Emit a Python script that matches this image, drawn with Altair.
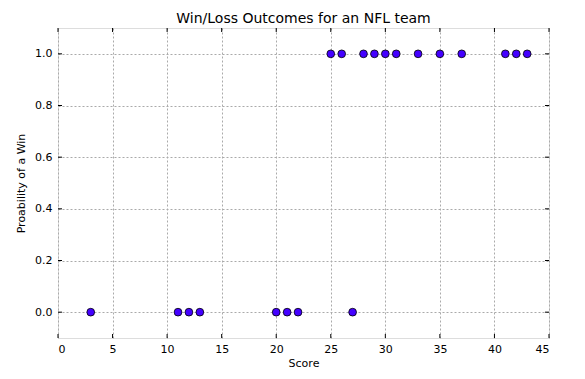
import altair as alt
import pandas as pd

scores = [3, 11, 12, 13, 20, 21, 22, 27, 25, 26, 28, 29, 30, 31, 33, 35, 37, 41, 42, 43]
wins = [0, 0, 0, 0, 0, 0, 0, 0, 1, 1, 1, 1, 1, 1, 1, 1, 1, 1, 1, 1]
x_ticks = [0, 5, 10, 15, 20, 25, 30, 35, 40, 45]
y_ticks = [0.0, 0.2, 0.4, 0.6, 0.8, 1.0]

W, H = 491, 310
FONT = "DejaVu Sans"

df = pd.DataFrame({"Score": scores, "Win": wins})
xt = pd.DataFrame({"t": x_ticks})
yt = pd.DataFrame({"t": y_ticks})

xscale = alt.Scale(domain=[0, 45], nice=False, zero=False)
yscale = alt.Scale(domain=[-0.1, 1.1], nice=False, zero=False)

points = alt.Chart(df).mark_point(
    filled=True, size=60, color="#4400ff", stroke="black", strokeWidth=0.8, opacity=1
).encode(
    x=alt.X("Score:Q", scale=xscale, title="Score",
            axis=alt.Axis(values=x_ticks, format="d", grid=True, gridDash=[2, 2],
                          gridColor="#aaaaaa", gridOpacity=1, tickSize=0,
                          labelPadding=5, domain=False, titlePadding=3,
                          titleFontWeight="normal", titleFont=FONT, labelFont=FONT,
                          labelFontSize=11, titleFontSize=11)),
    y=alt.Y("Win:Q", scale=yscale, title="Proability of a Win",
            axis=alt.Axis(values=y_ticks, format=".1f", grid=True, gridDash=[2, 2],
                          gridColor="#aaaaaa", gridOpacity=1, tickSize=0,
                          labelPadding=6, domain=False, titlePadding=8,
                          titleFontWeight="normal", titleFont=FONT, labelFont=FONT,
                          labelFontSize=11, titleFontSize=11)),
)

tick_len = 4
xb = alt.Chart(xt).mark_rule(color="black", strokeWidth=1).encode(
    x=alt.X("t:Q", scale=xscale), y=alt.value(H), y2=alt.value(H - tick_len))
xtop = alt.Chart(xt).mark_rule(color="black", strokeWidth=1).encode(
    x=alt.X("t:Q", scale=xscale), y=alt.value(0), y2=alt.value(tick_len))
yl = alt.Chart(yt).mark_rule(color="black", strokeWidth=1).encode(
    y=alt.Y("t:Q", scale=yscale), x=alt.value(0), x2=alt.value(tick_len))
yr = alt.Chart(yt).mark_rule(color="black", strokeWidth=1).encode(
    y=alt.Y("t:Q", scale=yscale), x=alt.value(W), x2=alt.value(W - tick_len))

chart = alt.layer(xb, xtop, yl, yr, points).properties(
    width=W, height=H,
    title=alt.TitleParams("Win/Loss Outcomes for an NFL team", fontSize=14,
                          fontWeight="normal", font=FONT, color="black", offset=2),
    autosize=alt.AutoSizeParams(type="none"),
    padding={"left": 50, "top": 20, "right": 20, "bottom": 33},
).configure_view(
    stroke="black", strokeWidth=1.2
).configure_axis(
    labelFont=FONT, titleFont=FONT, labelFontSize=11, titleFontSize=11,
    titleFontWeight="normal", labelColor="black", titleColor="black"
).configure(background="white")

chart.save("out.html", embed_options={"renderer": "svg", "actions": False})
